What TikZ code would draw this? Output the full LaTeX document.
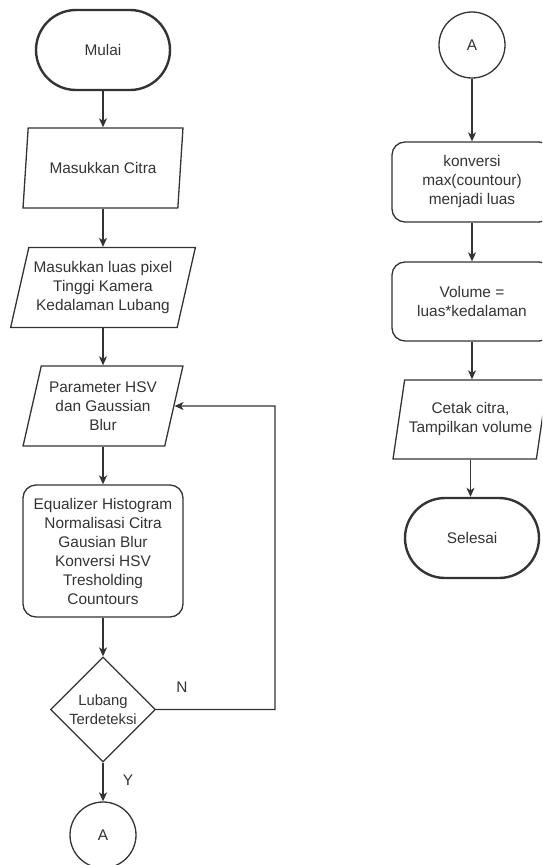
\documentclass[tikz,border=0pt]{standalone}
\usepackage{fontspec}
\setmainfont{Liberation Sans}
\usetikzlibrary{shapes.geometric,arrows.meta}
\definecolor{ink}{HTML}{333333}
\tikzset{
  base/.style={draw=ink, text=ink, line width=1.3pt, font=\fontsize{15.4}{19}\selectfont, align=center, inner sep=0pt},
  term/.style={base, line width=2.4pt, rectangle, rounded corners=40pt, minimum width=134pt, minimum height=80pt},
  io/.style={base, trapezium, trapezium left angle=72, trapezium right angle=108, trapezium stretches=true, minimum height=80pt},
  proc/.style={base, rectangle, rounded corners=13pt, minimum width=160pt},
  cond/.style={base, diamond, aspect=1, inner sep=-3pt, minimum width=105pt, minimum height=105pt, font=\fontsize{14.8}{18.5}\selectfont},
  conn/.style={base, circle, minimum size=66pt},
  lbl/.style={text=ink, font=\fontsize{15.4}{19}\selectfont},
  arr/.style={draw=ink, line width=1.3pt, -{Stealth[length=9pt,width=8pt,inset=2.5pt]}},
}
\begin{document}
\begin{tikzpicture}[x=1pt, y=-1pt]
  \useasboundingbox (0,0) rectangle (542,865);
  \clip (0,0) rectangle (542,865);

  % left column
  \node[term] (start) at (103,50) {Mulai};
  \node[io, minimum width=160pt] (inA) at (103,168) {Masukkan Citra};
  \node[io, minimum width=185pt] (inB) at (103,287.5) {Masukkan luas pixel\\Tinggi Kamera\\Kedalaman Lubang};
  \node[io, minimum width=160pt] (param) at (103,406) {Parameter HSV\\dan Gaussian\\Blur};
  \node[proc, minimum height=132pt] (prep) at (103,551) {Equalizer Histogram\\Normalisasi Citra\\Gausian Blur\\Konversi HSV\\Tresholding\\Countours};
  \node[cond] (check) at (103,709.5) {Lubang\\Terdeteksi};
  \node[conn] (conA) at (103,835) {A};
  \node[lbl] (lblN) at (182,687) {N};
  \node[lbl] (lblY) at (128,780) {Y};
  \coordinate (loop) at (275,406); % corner of the N loop

  % right column
  \node[conn] (conB) at (472,45) {A};
  \node[proc, minimum height=80pt] (conv) at (472,182) {konversi\\max(countour)\\menjadi luas};
  \node[proc, minimum height=79pt] (vol) at (472,301.5) {Volume =\\luas*kedalaman};
  \node[io, minimum width=155pt, minimum height=79pt] (out) at (470.5,419.5) {Cetak citra,\\Tampilkan volume};
  \node[term] (stop) at (472,538) {Selesai};

  % arrows
  \foreach \a/\b in {start/inA, inA/inB, inB/param, param/prep, prep/check, check/conA, conB/conv, conv/vol, vol/out, out/stop}
    \draw[arr] (\a.south -| \a) -- (\b.north -| \a);
  \draw[arr] (check.east) -| (loop) -- (param.east); % back to parameters
\end{tikzpicture}
\end{document}
